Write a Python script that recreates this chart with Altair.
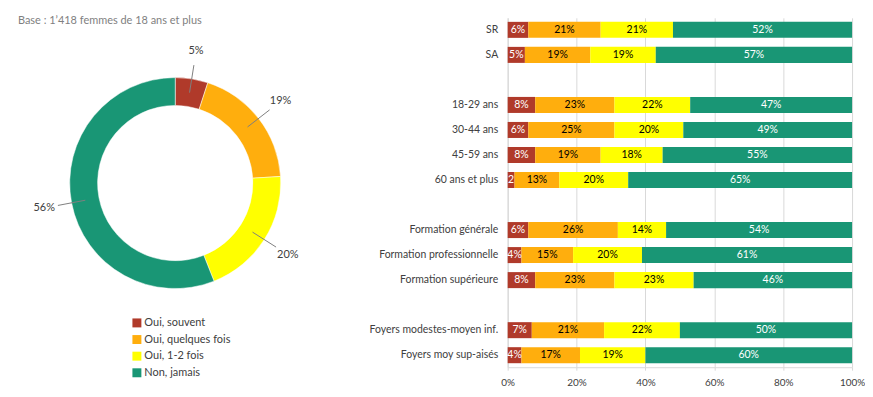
import altair as alt
import pandas as pd

# ---------------- data ----------------
title_text = "Base : 1\u2019418 femmes de 18 ans et plus"
series = ["Oui, souvent", "Oui, quelques fois", "Oui, 1-2 fois", "Non, jamais"]
colors = ["#B03A2A", "#FFAE0D", "#FFFF00", "#199675"]
overall = [5, 19, 20, 56]

groups = ["SR", "SA", "18-29 ans", "30-44 ans", "45-59 ans", "60 ans et plus",
          "Formation générale", "Formation professionnelle", "Formation supérieure",
          "Foyers modestes-moyen inf.", "Foyers moy sup-aisés"]
souvent = [6, 5, 8, 6, 8, 2, 6, 4, 8, 7, 4]
quelques = [21, 19, 23, 25, 19, 13, 26, 15, 23, 21, 17]
unedeux = [21, 19, 22, 20, 18, 20, 14, 20, 23, 22, 19]
jamais = [52, 57, 47, 49, 55, 65, 54, 61, 46, 50, 60]

y_domain = ["SR", "SA", "_1", "18-29 ans", "30-44 ans", "45-59 ans", "60 ans et plus", "_2",
            "Formation générale", "Formation professionnelle", "Formation supérieure", "_3",
            "Foyers modestes-moyen inf.", "Foyers moy sup-aisés"]
x_ticks = [0, 20, 40, 60, 80, 100]

FONT = "Lato"

# ---------------- tables ----------------
donut_df = pd.DataFrame({"cat": series, "val": overall, "ord": list(range(len(series)))})

rows = []
for i, g in enumerate(groups):
    for k, vals in enumerate([souvent, quelques, unedeux, jamais]):
        rows.append({"group": g, "series": series[k], "ord": k, "value": vals[i]})
bar_df = pd.DataFrame(rows)

color_scale = alt.Scale(domain=series, range=colors)

# ---------------- left: donut ----------------
CX, CY = 168, 166
R_OUT, R_IN = 106, 78

dbase = alt.Chart(donut_df)

arcs = dbase.mark_arc(outerRadius=R_OUT, innerRadius=R_IN, stroke="#ffffff", strokeWidth=0.5).encode(
    theta=alt.Theta("val:Q", stack=True, scale=alt.Scale(domain=[0, 100])),
    color=alt.Color("cat:N", scale=color_scale,
                    legend=alt.Legend(title=None, orient="none", legendX=124, legendY=301,
                                      symbolType="square", symbolSize=81, symbolStrokeWidth=0,
                                      labelFont=FONT, labelFontSize=11, labelColor="#404040",
                                      rowPadding=4.7, padding=0, labelOffset=2)),
    order=alt.Order("ord:Q"),
    x=alt.value(CX), y=alt.value(CY),
)

polar = dbase.transform_window(
    cum="sum(val)", sort=[alt.SortField("ord")], frame=[None, 0]
).transform_calculate(
    mid="2*PI*(datum.cum - datum.val/2)/100",
).transform_calculate(
    x1=f"{CX} + 92*sin(datum.mid)", y1=f"{CY} - 92*cos(datum.mid)",
    x2=f"{CX} + 120*sin(datum.mid)", y2=f"{CY} - 120*cos(datum.mid)",
    lx=f"{CX} + 134*sin(datum.mid)", ly=f"{CY} - 134*cos(datum.mid)",
    lab="datum.val + '%'",
)

leaders = polar.mark_rule(color="#7F7F7F", strokeWidth=1).encode(
    x=alt.X("x1:Q", scale=None), y=alt.Y("y1:Q", scale=None),
    x2="x2:Q", y2="y2:Q",
)
dlabels = polar.mark_text(font=FONT, fontSize=11, color="#404040").encode(
    x=alt.X("lx:Q", scale=None), y=alt.Y("ly:Q", scale=None), text="lab:N",
)

title_mark = alt.Chart(pd.DataFrame({"t": [title_text]})).mark_text(
    font=FONT, fontSize=11, color="#7F7F7F", align="left", baseline="middle"
).encode(x=alt.value(10), y=alt.value(3), text="t:N")

left = alt.layer(arcs, leaders, dlabels, title_mark).properties(width=372, height=370)

# ---------------- right: stacked bars ----------------
bbase = alt.Chart(bar_df)
y_enc = alt.Y("group:N", scale=alt.Scale(domain=y_domain, paddingInner=0.36, paddingOuter=0.16),
              axis=alt.Axis(title=None, labelExpr="indexof(datum.label, '_') == 0 ? '' : datum.label",
                            ticks=False, domainColor="#D9D9D9", labelFont=FONT, labelFontSize=10.5,
                            labelColor="#404040", labelPadding=10, grid=False))

bars = bbase.mark_bar().encode(
    y=y_enc,
    x=alt.X("value:Q", stack="zero", scale=alt.Scale(domain=[0, 100], nice=False),
            axis=alt.Axis(title=None, values=x_ticks, labelExpr="datum.value + '%'",
                          grid=True, gridColor="#D9D9D9", domainColor="#D9D9D9",
                          tickColor="#D9D9D9", tickSize=3, labelPadding=7, labelFlush=False,
                          labelFont=FONT, labelFontSize=10, labelColor="#404040")),
    color=alt.Color("series:N", scale=color_scale, legend=None),
    order=alt.Order("ord:Q"),
)

btext = bbase.transform_window(
    cum="sum(value)", groupby=["group"], sort=[alt.SortField("ord")], frame=[None, 0]
).transform_calculate(
    mid="datum.cum - datum.value/2",
    lab="datum.value >= 3 ? datum.value + '%' : datum.value + ''",
    tc="datum.ord == 0 || datum.ord == 3 ? '#ffffff' : '#000000'",
).mark_text(font=FONT, fontSize=10.5, baseline="middle").encode(
    y=alt.Y("group:N", scale=alt.Scale(domain=y_domain)),
    x=alt.X("mid:Q"),
    text="lab:N",
    color=alt.Color("tc:N", scale=None),
)

right = alt.layer(bars, btext).properties(width=346, height=351)

chart = alt.hconcat(left, right, spacing=130, bounds="flush").resolve_scale(
    color="independent"
).properties(
    padding={"left": 0, "top": 6, "right": 0, "bottom": 0},
    background="#ffffff",
).configure_view(stroke="transparent", strokeWidth=0)

chart.save("out.html", embed_options={"renderer": "svg", "actions": False})
